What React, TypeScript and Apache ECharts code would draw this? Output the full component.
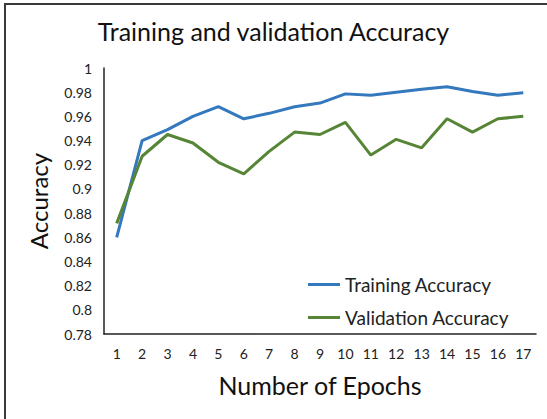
import React, { useEffect, useRef } from "react";
import * as echarts from "echarts";

const epochs = ["1","2","3","4","5","6","7","8","9","10","11","12","13","14","15","16","17"];
const trainingAcc = [0.86, 0.94, 0.949, 0.96, 0.968, 0.958, 0.9625, 0.968, 0.971, 0.9786, 0.9775, 0.98, 0.9825, 0.9845, 0.9805, 0.9775, 0.9795];
const validationAcc = [0.8715, 0.927, 0.945, 0.938, 0.922, 0.9125, 0.931, 0.947, 0.945, 0.955, 0.928, 0.941, 0.934, 0.958, 0.947, 0.958, 0.96];

const FONT = "Lato, 'Open Sans', sans-serif";

export default function App() {
  const ref = useRef<HTMLDivElement>(null);
  useEffect(() => {
    if (!ref.current) return;
    const chart = echarts.init(ref.current, undefined, { renderer: "svg" });
    chart.setOption({
      animation: false,
      backgroundColor: "#ffffff",
      textStyle: { fontFamily: FONT },
      title: {
        text: "Training and validation Accuracy",
        left: "center",
        top: 18,
        padding: 0,
        textStyle: { fontFamily: FONT, fontSize: 25, fontWeight: "normal", color: "#111" },
      },
      graphic: [
        {
          type: "polyline",
          shape: { points: [[5, 420], [5, 4], [548, 4]] },
          style: { stroke: "#3a3a3a", lineWidth: 2, fill: "none" },
        },
      ],
      legend: {
        orient: "vertical",
        left: 308,
        top: 275,
        padding: 0,
        itemWidth: 32,
        itemHeight: 3,
        itemGap: 14,
        icon: "rect",
        textStyle: { fontFamily: FONT, fontSize: 19, color: "#222" },
        data: ["Training Accuracy", "Validation Accuracy"],
      },
      grid: { left: 104, right: 11, top: 68, bottom: 85 },
      xAxis: {
        type: "category",
        data: epochs,
        boundaryGap: true,
        name: "Number of Epochs",
        nameLocation: "middle",
        nameGap: 38,
        nameTextStyle: { fontFamily: FONT, fontSize: 25, color: "#111" },
        axisLine: { lineStyle: { color: "#222", width: 1.5 } },
        axisTick: { show: false },
        axisLabel: { margin: 12, fontSize: 14, color: "#222", fontFamily: FONT },
      },
      yAxis: {
        type: "value",
        min: 0.78,
        max: 1,
        interval: 0.02,
        name: "Accuracy",
        nameLocation: "middle",
        nameGap: 54,
        nameTextStyle: { fontFamily: FONT, fontSize: 24, color: "#111" },
        axisLine: { show: true, lineStyle: { color: "#222", width: 1.5 } },
        axisTick: { show: false },
        splitLine: { show: false },
        axisLabel: {
          margin: 12,
          fontSize: 14,
          color: "#222",
          fontFamily: FONT,
          formatter: (v: number) => String(parseFloat(v.toFixed(2))),
        },
      },
      series: [
        {
          name: "Training Accuracy",
          type: "line",
          data: trainingAcc,
          symbol: "none",
          lineStyle: { color: "#3478bd", width: 3 },
          itemStyle: { color: "#3478bd" },
        },
        {
          name: "Validation Accuracy",
          type: "line",
          data: validationAcc,
          symbol: "none",
          lineStyle: { color: "#558535", width: 3 },
          itemStyle: { color: "#558535" },
        },
      ],
    });
    return () => chart.dispose();
  }, []);
  return (
    <div
      ref={ref}
      style={{ position: "fixed", left: 0, top: 0, width: 547, height: 419 }}
    />
  );
}
